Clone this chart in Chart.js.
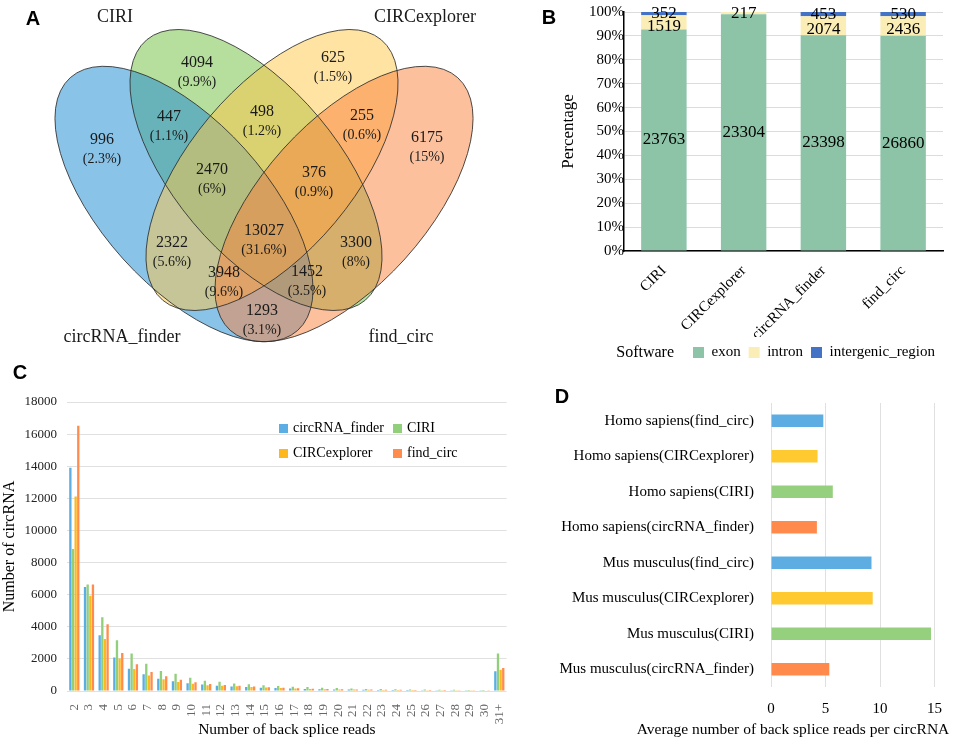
<!DOCTYPE html>
<html>
<head>
<meta charset="utf-8">
<script src="https://cdn.jsdelivr.net/npm/chart.js@4.4.0/dist/chart.umd.min.js"></script>
<style>
  body { margin: 0; width: 955px; height: 741px; position: relative; background: #fff; overflow: hidden; }
  canvas { position: absolute; }
</style>
</head>
<body>
<canvas id="venn" width="480" height="350" style="left:0;top:0"></canvas>
<canvas id="region" width="475" height="370" style="left:480px;top:0"></canvas>
<canvas id="reads" width="520" height="386" style="left:0;top:355px"></canvas>
<canvas id="avg" width="435" height="371" style="left:520px;top:370px"></canvas>
<script>
const serif = "'Liberation Serif', 'Times New Roman', serif";
const sans = "'Liberation Sans', Arial, sans-serif";
Chart.defaults.font.family = serif;
Chart.defaults.color = '#000';

// A - Venn
const vennSets = ['circRNA_finder', 'CIRI', 'CIRCexplorer', 'find_circ'];
const vennCounts = [996, 4094, 625, 6175, 447, 498, 255, 2470, 376, 2322, 13027, 3300, 3948, 1452, 1293];
const vennPercents = ['2.3%', '9.9%', '1.5%', '15%', '1.1%', '1.2%', '0.6%', '6%', '0.9%', '5.6%', '31.6%', '8%', '9.6%', '3.5%', '3.1%'];
// where each region's label sits, in diagram units
const vennLabelAt = [[102, 140], [197, 63], [333, 58], [427, 138], [169, 117], [262, 112], [362, 116],
  [212, 170], [314, 173], [172, 243], [264, 231], [356, 243], [224, 273], [307, 272], [262, 311]];
// drawn in this order: CIRI, circRNA_finder, CIRCexplorer, find_circ
const vennShapes = [
  { cx: 256, cy: 170, rot: 50, fill: 'rgba(110,190,60,0.5)' },
  { cx: 184, cy: 204, rot: 48, fill: 'rgba(30,140,210,0.52)' },
  { cx: 272, cy: 170, rot: -50, fill: 'rgba(255,200,70,0.5)' },
  { cx: 344, cy: 204, rot: -48, fill: 'rgba(250,130,60,0.5)' }
];
const vennNameAt = [[122, 337], [115, 17], [425, 17], [401, 337]];

// B - genomic region
const software = ['CIRI', 'CIRCexplorer', 'circRNA_finder', 'find_circ'];
const exonCounts = [23763, 23304, 23398, 26860];
const intronCounts = [1519, 217, 2074, 2436];
const intergenicCounts = [352, 0, 453, 530];

// C - back splice read distribution
const readBins = ['2', '3', '4', '5', '6', '7', '8', '9', '10', '11', '12', '13', '14', '15', '16', '17', '18', '19', '20',
  '21', '22', '23', '24', '25', '26', '27', '28', '29', '30', '31+'];
const finderReads = [13900, 6480, 3470, 2080, 1390, 1040, 770, 600, 480, 400, 330, 280, 250, 210, 180, 150, 130, 110, 100, 90,
  80, 70, 60, 60, 50, 50, 45, 40, 40, 1230];
const ciriReads = [8850, 6640, 4590, 3160, 2330, 1700, 1250, 1080, 830, 640, 570, 470, 420, 360, 310, 260, 250, 200, 190, 150,
  130, 120, 110, 100, 90, 80, 75, 70, 65, 2330];
const explorerReads = [12120, 5940, 3240, 2020, 1370, 960, 730, 560, 450, 360, 330, 290, 250, 220, 180, 160, 120, 110, 100, 90,
  80, 70, 70, 60, 50, 50, 45, 40, 35, 1330];
const findCircReads = [16520, 6640, 4150, 2370, 1660, 1180, 915, 700, 550, 430, 380, 330, 280, 240, 200, 170, 140, 120, 110, 100,
  90, 80, 75, 70, 60, 55, 50, 45, 40, 1430];

// D - average reads
const samples = ['Homo sapiens(find_circ)', 'Homo sapiens(CIRCexplorer)', 'Homo sapiens(CIRI)', 'Homo sapiens(circRNA_finder)',
  'Mus musculus(find_circ)', 'Mus musculus(CIRCexplorer)', 'Mus musculus(CIRI)', 'Mus musculus(circRNA_finder)'];
const avgReads = [4.8, 4.27, 5.67, 4.21, 9.22, 9.33, 14.68, 5.35];
const toolColor = { find_circ: '#5DADE2', CIRCexplorer: '#FFC930', CIRI: '#95D07F', circRNA_finder: '#FF8A4B' };

const letter = (txt, x, y) => ({
  id: 'letter' + txt,
  afterDraw(chart) {
    const ctx = chart.ctx;
    ctx.save();
    ctx.font = `bold 20px ${sans}`;
    ctx.fillStyle = '#000';
    ctx.textAlign = 'center';
    ctx.textBaseline = 'middle';
    ctx.fillText(txt, x, y);
    ctx.restore();
  }
});

// ---- A
const vennPlugin = {
  id: 'venn',
  beforeDatasetsDraw(chart) {
    const { ctx, scales: { x, y } } = chart;
    const sx = x.getPixelForValue(1) - x.getPixelForValue(0);
    const sy = y.getPixelForValue(1) - y.getPixelForValue(0);
    const path = e => {
      ctx.beginPath();
      ctx.ellipse(x.getPixelForValue(e.cx), y.getPixelForValue(e.cy), 170 * sx, 82 * sy, e.rot * Math.PI / 180, 0, Math.PI * 2);
    };
    ctx.save();
    vennShapes.forEach(e => { path(e); ctx.fillStyle = e.fill; ctx.fill(); });
    ctx.strokeStyle = 'rgba(45,45,45,0.85)';
    ctx.lineWidth = 1;
    vennShapes.forEach(e => { path(e); ctx.stroke(); });
    ctx.restore();
  },
  afterDatasetsDraw(chart) {
    const { ctx, scales: { x, y } } = chart;
    ctx.save();
    ctx.fillStyle = '#1a1a1a';
    ctx.textAlign = 'center';
    ctx.textBaseline = 'middle';
    chart.getDatasetMeta(0).data.forEach((pt, i) => {
      ctx.font = `16px ${serif}`;
      ctx.fillText(vennCounts[i], pt.x, pt.y);
      ctx.font = `14px ${serif}`;
      ctx.fillText('(' + vennPercents[i] + ')', pt.x, pt.y + 19);
    });
    ctx.font = `18px ${serif}`;
    vennSets.forEach((s, i) => ctx.fillText(s, x.getPixelForValue(vennNameAt[i][0]), y.getPixelForValue(vennNameAt[i][1])));
    ctx.restore();
  }
};

new Chart(document.getElementById('venn'), {
  type: 'scatter',
  data: { datasets: [{ data: vennLabelAt.map(([x, y]) => ({ x, y })), pointRadius: 0 }] },
  options: {
    responsive: false, animation: false,
    layout: { padding: 0 },
    scales: {
      x: { display: false, min: 0, max: 480 },
      y: { display: false, min: 0, max: 350, reverse: true }
    },
    plugins: { legend: { display: false }, tooltip: { enabled: false } }
  },
  plugins: [vennPlugin, letter('A', 33, 19)]
});

// ---- B
const share = (arr) => arr.map((v, i) => 100 * v / (exonCounts[i] + intronCounts[i] + intergenicCounts[i]));

const stackLabels = {
  id: 'stackLabels',
  afterDatasetsDraw(chart) {
    const ctx = chart.ctx;
    ctx.save();
    ctx.font = `17px ${serif}`;
    ctx.fillStyle = '#000';
    ctx.textAlign = 'center';
    ctx.textBaseline = 'middle';
    chart.data.datasets.forEach((ds, i) => {
      chart.getDatasetMeta(i).data.forEach((bar, j) => {
        if (!ds.counts[j]) return;
        const p = bar.getCenterPoint();
        ctx.fillText(ds.counts[j], p.x, p.y + (i === 1 && j !== 1 ? 4 : 0));
      });
    });
    ctx.restore();
  }
};

const legendTitle = {
  id: 'legendTitle',
  afterDraw(chart) {
    const box = chart.legend.legendHitBoxes[0];
    const ctx = chart.ctx;
    ctx.save();
    ctx.font = `16px ${serif}`;
    ctx.fillStyle = '#000';
    ctx.textAlign = 'right';
    ctx.textBaseline = 'middle';
    ctx.fillText('Software', box.left - 19, box.top + box.height / 2);
    ctx.restore();
  }
};

new Chart(document.getElementById('region'), {
  type: 'bar',
  data: {
    labels: software,
    datasets: [
      { label: 'exon', data: share(exonCounts), counts: exonCounts, backgroundColor: '#8DC4A8' },
      { label: 'intron', data: share(intronCounts), counts: intronCounts, backgroundColor: '#FAEDB6' },
      { label: 'intergenic_region', data: share(intergenicCounts), counts: intergenicCounts, backgroundColor: '#4472C4' }
    ]
  },
  options: {
    responsive: false, animation: false,
    layout: { padding: { top: 12, right: 12, left: 0, bottom: 0 } },
    datasets: { bar: { barPercentage: 0.57, categoryPercentage: 1 } },
    scales: {
      x: {
        stacked: true,
        grid: { display: false },
        border: { color: '#000', width: 1.5 },
        ticks: { minRotation: 45, maxRotation: 45, color: '#000', font: { size: 15 } },
        afterFit: s => { s.height = 86; }
      },
      y: {
        stacked: true, min: 0, max: 100,
        ticks: { stepSize: 10, callback: v => v + '%', color: '#000', font: { size: 15 }, padding: 0 },
        grid: { color: '#dcdcdc', drawTicks: false },
        border: { color: '#000', width: 1.5 },
        title: { display: true, text: 'Percentage', font: { size: 17 }, color: '#000', padding: { top: 78, bottom: 0 } },
        afterFit: s => { s.width = 144; }
      }
    },
    plugins: {
      legend: {
        position: 'bottom', align: 'end',
        labels: { boxWidth: 11, boxHeight: 11, color: '#000', font: { size: 15 }, padding: 8 }
      },
      tooltip: { enabled: false }
    }
  },
  plugins: [stackLabels, legendTitle, letter('B', 69, 18)]
});

// ---- C
const readsLegend = {
  id: 'readsLegend',
  afterDraw(chart) {
    const ctx = chart.ctx;
    ctx.save();
    ctx.font = `14px ${serif}`;
    ctx.textBaseline = 'middle';
    chart.data.datasets.forEach((ds, i) => {
      const bx = [279, 393][i % 2];
      const by = [69, 94][Math.floor(i / 2)];
      ctx.fillStyle = ds.backgroundColor;
      ctx.fillRect(bx, by, 9, 9);
      ctx.fillStyle = '#000';
      ctx.fillText(ds.label, bx + 14, by + 4.5);
    });
    ctx.restore();
  }
};

new Chart(document.getElementById('reads'), {
  type: 'bar',
  data: {
    labels: readBins,
    datasets: [
      { label: 'circRNA_finder', data: finderReads, backgroundColor: '#5AAEE3' },
      { label: 'CIRI', data: ciriReads, backgroundColor: '#92CF7A' },
      { label: 'CIRCexplorer', data: explorerReads, backgroundColor: '#FFB81C' },
      { label: 'find_circ', data: findCircReads, backgroundColor: '#FF8C4D' }
    ]
  },
  options: {
    responsive: false, animation: false,
    layout: { padding: { top: 47, right: 6, left: 0, bottom: 0 } },
    datasets: { bar: { categoryPercentage: 0.72, barPercentage: 0.88 } },
    scales: {
      x: {
        grid: { display: false },
        border: { display: false },
        ticks: { minRotation: 90, maxRotation: 90, autoSkip: false, color: '#666', font: { size: 13 }, padding: 5 },
        title: { display: true, text: 'Number of back splice reads', color: '#000', font: { size: 15.5 }, padding: { top: 0, bottom: 2 } },
        afterFit: s => { s.height = 50; }
      },
      y: {
        min: 0, max: 18000,
        ticks: { stepSize: 2000, callback: v => String(v), color: '#222', font: { size: 13 }, padding: 10 },
        grid: { color: '#e0e0e0', drawTicks: false },
        border: { display: false },
        title: { display: true, text: 'Number of circRNA', color: '#000', font: { size: 16 }, padding: 0 },
        afterFit: s => { s.width = 67; }
      }
    },
    plugins: { legend: { display: false }, tooltip: { enabled: false } }
  },
  plugins: [readsLegend, letter('C', 20, 18)]
});

// ---- D
const avgTitle = {
  id: 'avgTitle',
  afterDraw(chart) {
    const ctx = chart.ctx;
    ctx.save();
    ctx.font = `15.5px ${serif}`;
    ctx.fillStyle = '#000';
    ctx.textAlign = 'center';
    ctx.textBaseline = 'middle';
    ctx.fillText('Average number of back splice reads per circRNA', 273, chart.height - 11);
    ctx.restore();
  }
};

new Chart(document.getElementById('avg'), {
  type: 'bar',
  data: {
    labels: samples,
    datasets: [{ data: avgReads, backgroundColor: samples.map(s => toolColor[s.slice(s.indexOf('(') + 1, -1)]) }]
  },
  options: {
    indexAxis: 'y',
    responsive: false, animation: false,
    layout: { padding: { top: 33, right: 12, left: 0, bottom: 0 } },
    datasets: { bar: { categoryPercentage: 1, barPercentage: 0.35 } },
    scales: {
      x: {
        min: 0, max: 15,
        ticks: { stepSize: 5, color: '#000', font: { size: 15 }, padding: 13 },
        grid: { color: '#e0e0e0', drawTicks: false },
        border: { display: false },
        afterFit: s => { s.height = 54; }
      },
      y: {
        grid: { display: false },
        border: { display: false },
        ticks: { color: '#000', font: { size: 15 }, padding: 9 },
        afterFit: s => { s.width = 251; }
      }
    },
    plugins: { legend: { display: false }, tooltip: { enabled: false } }
  },
  plugins: [avgTitle, letter('D', 42, 27)]
});
</script>
</body>
</html>
